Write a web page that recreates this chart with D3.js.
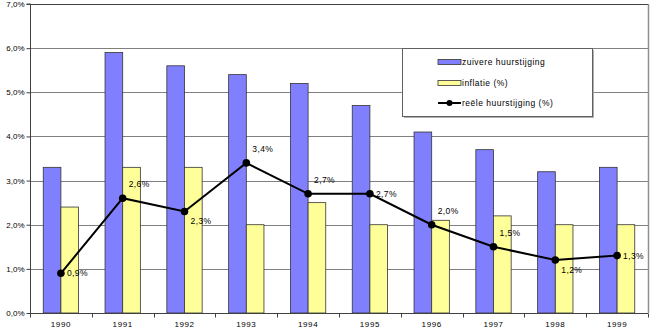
<!DOCTYPE html>
<html>
<head>
<meta charset="utf-8">
<script src="https://cdn.jsdelivr.net/npm/d3@7/dist/d3.min.js"></script>
<style>
  html, body { margin: 0; padding: 0; background: #fff; }
  svg { display: block; font-family: "Liberation Sans", Arial, sans-serif; }
</style>
</head>
<body>
<svg id="chart" width="650" height="330"></svg>
<script>
// Huurstijging en inflatie, 1990-1999
const years = ["1990", "1991", "1992", "1993", "1994", "1995", "1996", "1997", "1998", "1999"];
const zuivereHuurstijging = [3.3, 5.9, 5.6, 5.4, 5.2, 4.7, 4.1, 3.7, 3.2, 3.3];
const inflatie = [2.4, 3.3, 3.3, 2.0, 2.5, 2.0, 2.1, 2.2, 2.0, 2.0];
const reeleHuurstijging = [0.9, 2.6, 2.3, 3.4, 2.7, 2.7, 2.0, 1.5, 1.2, 1.3];
const yTicks = [0, 1, 2, 3, 4, 5, 6, 7];
const seriesNames = ["zuivere huurstijging", "inflatie (%)", "reële huurstijging (%)"];
// where each value label sits relative to its point
const labelPlacement = ["right", "above", "below", "above", "above", "right", "above", "above", "below", "right"];

const fmt = v => d3.format(".1f")(v).replace(".", ",") + "%";

const svg = d3.select("#chart");
const plotLeft = 30, plotRight = 648, plotTop = 4, plotBottom = 313;

const x = d3.scaleBand().domain(years).range([plotLeft, plotRight]).paddingInner(0).paddingOuter(0);
const y = d3.scaleLinear().domain([0, 7]).range([plotBottom, plotTop]);

// two bars per year, Excel-style 150% gap
const barW = x.bandwidth() / 3.5;
const sub = d3.scaleBand().domain(["z", "i"]).range([0, barW * 2]);
const groupOffset = (x.bandwidth() - barW * 2) / 2;

// gridlines
svg.append("g")
  .selectAll("line")
  .data(yTicks.filter(t => t > 0))
  .join("line")
  .attr("x1", plotLeft).attr("x2", plotRight)
  .attr("y1", d => Math.round(y(d)) + 0.5).attr("y2", d => Math.round(y(d)) + 0.5)
  .attr("stroke", d => d === 7 ? "#404040" : "#808080")
  .attr("stroke-width", 1);

// right frame edge
svg.append("line")
  .attr("x1", plotRight + 0.5).attr("x2", plotRight + 0.5)
  .attr("y1", plotTop).attr("y2", plotBottom)
  .attr("stroke", "#909090").attr("stroke-width", 1.5);

// bars
const bars = svg.append("g");
bars.selectAll("rect.z")
  .data(years)
  .join("rect")
  .attr("class", "z")
  .attr("x", d => x(d) + groupOffset + sub("z"))
  .attr("y", (d, i) => y(zuivereHuurstijging[i]))
  .attr("width", barW)
  .attr("height", (d, i) => y(0) - y(zuivereHuurstijging[i]))
  .attr("fill", "#8080ff")
  .attr("stroke", "#333")
  .attr("stroke-width", 0.8);

bars.selectAll("rect.i")
  .data(years)
  .join("rect")
  .attr("class", "i")
  .attr("x", d => x(d) + groupOffset + sub("i"))
  .attr("y", (d, i) => y(inflatie[i]))
  .attr("width", barW)
  .attr("height", (d, i) => y(0) - y(inflatie[i]))
  .attr("fill", "#ffff99")
  .attr("stroke", "#333")
  .attr("stroke-width", 0.8);

// axes
const yAxis = d3.axisLeft(y).tickValues(yTicks).tickSize(4).tickFormat(fmt);
const gy = svg.append("g").attr("transform", `translate(${plotLeft + 0.5},0)`).call(yAxis);
gy.select(".domain").attr("stroke", "#404040").attr("d", `M-4,${plotTop}H0V${plotBottom}`);
gy.selectAll(".tick line").attr("stroke", "#404040");
gy.selectAll(".tick text").attr("x", -6).attr("font-size", 8).attr("fill", "#000")
  .attr("font-family", "Liberation Sans, Arial, sans-serif");

const xAxis = d3.axisBottom(x).tickSize(0).tickFormat(d => d);
const gx = svg.append("g").attr("transform", `translate(0,${plotBottom + 0.5})`).call(xAxis);
gx.select(".domain").attr("stroke", "#404040").attr("d", `M${plotLeft},0H${plotRight}`);
gx.selectAll(".tick text").attr("y", 8).attr("dy", "0.71em").attr("font-size", 8)
  .attr("fill", "#000").attr("font-family", "Liberation Sans, Arial, sans-serif")
  .attr("letter-spacing", 0.6);
// category separators below the axis
gx.append("g").selectAll("line")
  .data(years.concat(["end"]))
  .join("line")
  .attr("x1", (d, i) => Math.round(i < years.length ? x(d) : plotRight) + 0.5)
  .attr("x2", (d, i) => Math.round(i < years.length ? x(d) : plotRight) + 0.5)
  .attr("y1", 0).attr("y2", 4)
  .attr("stroke", "#404040");

// reële huurstijging line
const cx = d => x(d) + x.bandwidth() / 2;
const line = d3.line().x((d, i) => cx(years[i])).y(d => y(d));
svg.append("path")
  .datum(reeleHuurstijging)
  .attr("d", line)
  .attr("fill", "none")
  .attr("stroke", "#000")
  .attr("stroke-width", 2);

svg.append("g").selectAll("circle")
  .data(reeleHuurstijging)
  .join("circle")
  .attr("cx", (d, i) => cx(years[i]))
  .attr("cy", d => y(d))
  .attr("r", 3.8)
  .attr("fill", "#000");

// value labels
svg.append("g").selectAll("text")
  .data(reeleHuurstijging)
  .join("text")
  .attr("x", (d, i) => cx(years[i]) + 6)
  .attr("y", (d, i) => {
    const p = labelPlacement[i];
    return y(d) + (p === "above" ? -14 : p === "below" ? 10 : 0);
  })
  .attr("dy", "0.35em")
  .attr("font-size", 8.5)
  .attr("letter-spacing", 0.4)
  .attr("fill", "#000")
  .text(fmt);

// legend
const lg = svg.append("g");
const lx = 402, ly = 48, lw = 190, lh = 68;
lg.append("rect")
  .attr("x", lx + 2).attr("y", ly + 2).attr("width", lw).attr("height", lh)
  .attr("fill", "#b0b0b0");
lg.append("rect")
  .attr("x", lx + 0.5).attr("y", ly + 0.5).attr("width", lw).attr("height", lh)
  .attr("fill", "#fff").attr("stroke", "#606060").attr("stroke-width", 1);

const rowY = [62, 83, 103];
const swX = 438, swW = 23;
lg.append("rect").attr("x", swX).attr("y", rowY[0] - 2.5).attr("width", swW).attr("height", 5)
  .attr("fill", "#8080ff").attr("stroke", "#333").attr("stroke-width", 0.8);
lg.append("rect").attr("x", swX).attr("y", rowY[1] - 2.5).attr("width", swW).attr("height", 5)
  .attr("fill", "#ffff99").attr("stroke", "#333").attr("stroke-width", 0.8);
lg.append("line").attr("x1", swX).attr("x2", swX + swW).attr("y1", rowY[2]).attr("y2", rowY[2])
  .attr("stroke", "#000").attr("stroke-width", 2);
lg.append("circle").attr("cx", swX + swW / 2).attr("cy", rowY[2]).attr("r", 3).attr("fill", "#000");

lg.selectAll("text.leg")
  .data(seriesNames)
  .join("text")
  .attr("class", "leg")
  .attr("x", swX + swW + 1)
  .attr("y", (d, i) => rowY[i])
  .attr("dy", "0.35em")
  .attr("font-size", 8.5)
  .attr("letter-spacing", 0.5)
  .attr("fill", "#000")
  .text(d => d);
</script>
</body>
</html>
